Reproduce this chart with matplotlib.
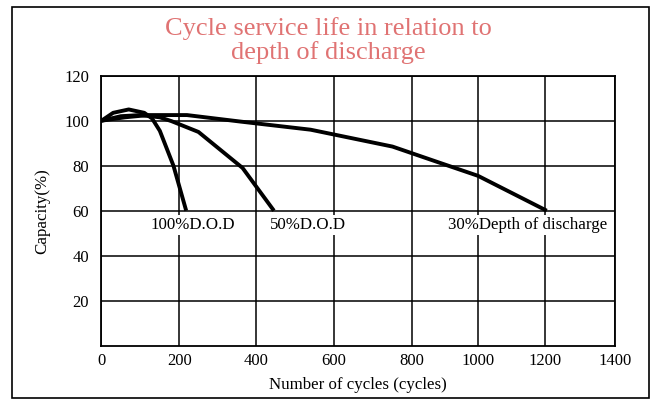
import numpy as np
import matplotlib
matplotlib.use("Agg")
import matplotlib.pyplot as plt
from matplotlib.patches import Rectangle

plt.rcParams['font.family'] = ['Liberation Serif', 'DejaVu Serif']

# data
dod100_x = [0, 30, 70, 110, 130, 150, 185, 218]
dod100_y = [100, 103.5, 105, 103.5, 101, 95.5, 80, 60]
dod50_x = [0, 50, 100, 150, 180, 250, 365, 446]
dod50_y = [100, 102, 102.5, 101.5, 99.8, 95, 79, 60]
dod30_x = [0, 60, 120, 220, 360, 540, 750, 880, 1000, 1205]
dod30_y = [100, 101.5, 102.5, 102.5, 99.6, 96, 88.5, 81.5, 75.5, 60]

x_ticks = [0, 200, 400, 600, 800, 1000, 1200, 1400]
y_ticks = [20, 40, 60, 80, 100, 120]
# the printed x axis is not evenly spaced; pixel position of each tick
x_tick_pos = [0, 77.8, 154.5, 232.5, 310.5, 376.5, 443.5, 513.5]

def fwd(v):
    return np.interp(v, x_ticks, x_tick_pos)

def inv(v):
    return np.interp(v, x_tick_pos, x_ticks)

fig = plt.figure(figsize=(6.56, 4.05), dpi=100)
ax = fig.add_axes([0.1547, 0.1464, 0.7828, 0.6667])
ax.set_xscale('function', functions=(fwd, inv))

for xs, ys in [(dod100_x, dod100_y), (dod50_x, dod50_y), (dod30_x, dod30_y)]:
    ax.plot(xs, ys, color='black', lw=2.8, solid_capstyle='butt', zorder=3)

ax.set_xlim(0, 1400)
ax.set_ylim(0, 120)
ax.set_xticks(x_ticks)
ax.set_xticklabels([str(t) for t in x_ticks])
ax.set_yticks(y_ticks)
ax.tick_params(length=0, labelsize=12)
ax.tick_params(axis='y', pad=9)
ax.tick_params(axis='x', pad=5)
ax.grid(True, color='black', lw=1.1)
for s in ax.spines.values():
    s.set_linewidth(1.3)

bb = dict(facecolor='white', edgecolor='none', pad=1.5)
ax.text(125, 53.6, '100%D.O.D', fontsize=12.2, va='center', bbox=bb, zorder=4)
ax.text(436, 53.6, '50%D.O.D', fontsize=12.2, va='center', bbox=bb, zorder=4)
ax.text(909, 53.6, '30%Depth of discharge', fontsize=12.2, va='center', bbox=bb, zorder=4)

ax.set_xlabel('Number of cycles (cycles)', fontsize=12.2, labelpad=6)
ax.set_ylabel('Capacity(%)', fontsize=12.2, labelpad=10)

fig.text(0.5, 0.958, 'Cycle service life in relation to\ndepth of discharge',
         ha='center', va='top', fontsize=19, color='#e07373', linespacing=1.08)

fig.add_artist(Rectangle((12 / 656, 7 / 405), 637 / 656, 391 / 405,
                         transform=fig.transFigure, fill=False,
                         edgecolor='black', lw=1.2))

fig.savefig('out.png', dpi=100)
